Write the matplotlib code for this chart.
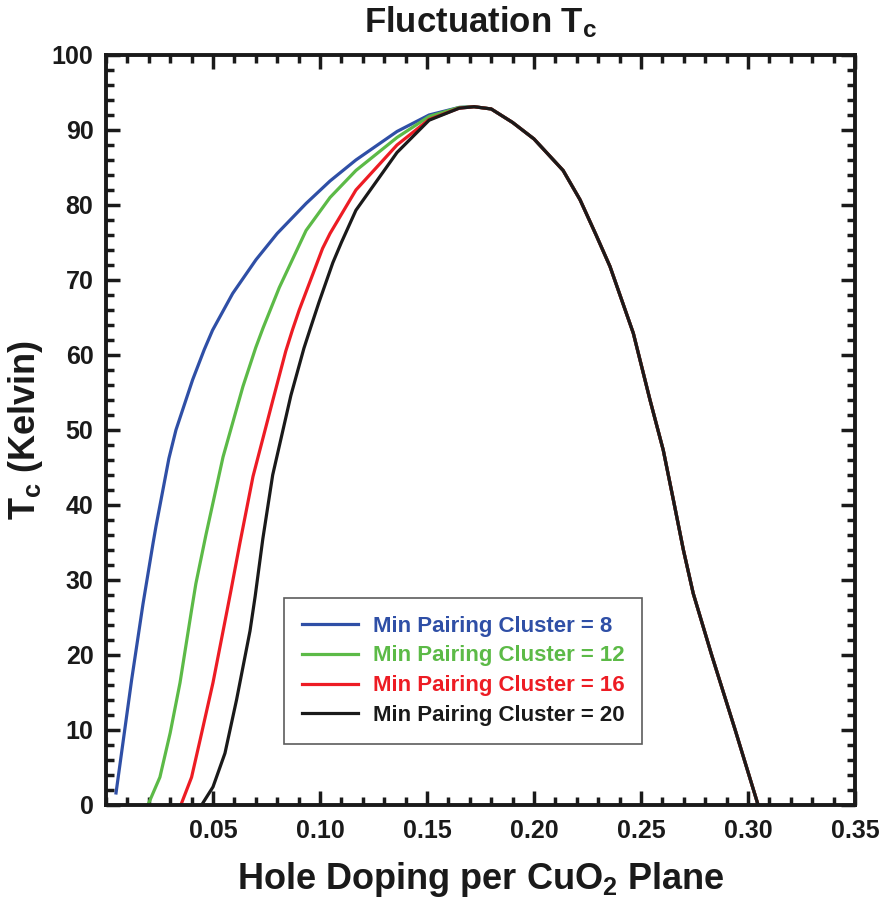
import matplotlib
matplotlib.use("Agg")
import matplotlib.pyplot as plt
from matplotlib.ticker import MultipleLocator

plt.rcParams["font.family"] = ["Liberation Sans", "DejaVu Sans"]
plt.rcParams["font.weight"] = "bold"
plt.rcParams["mathtext.fontset"] = "custom"
plt.rcParams["mathtext.rm"] = "Liberation Sans:bold"
plt.rcParams["mathtext.bf"] = "Liberation Sans:bold"
plt.rcParams["mathtext.it"] = "Liberation Sans:bold"

# shared overdoped branch (all curves coincide past the peak)
right_x = [0.180, 0.190, 0.200, 0.2136, 0.2215, 0.229, 0.2355, 0.2464, 0.2542,
           0.2604, 0.2651, 0.2698, 0.2744, 0.283, 0.294, 0.3047]
right_tc = [92.8, 91.0, 88.8, 84.6, 80.7, 76.0, 71.8, 62.9, 54.0,
            47.3, 40.7, 34.0, 28.2, 20.0, 10.0, 0.0]

# underdoped branches, one per minimum pairing cluster size
x_8 = [0.0047, 0.012, 0.0173, 0.022, 0.0234, 0.0294, 0.0327, 0.0405, 0.0459,
       0.0498, 0.0592, 0.0701, 0.080, 0.0935, 0.1047, 0.1168, 0.136, 0.151,
       0.165, 0.172]
tc_8 = [1.6, 16.7, 26.8, 34.9, 37.2, 46.2, 50.0, 56.7, 60.7,
        63.3, 68.2, 72.7, 76.2, 80.2, 83.2, 86.0, 89.8, 92.0,
        93.0, 93.1]

x_12 = [0.0196, 0.0252, 0.030, 0.0346, 0.040, 0.042, 0.0467, 0.0547, 0.064,
        0.070, 0.0734, 0.081, 0.0935, 0.1047, 0.1168, 0.136, 0.151, 0.165, 0.172]
tc_12 = [0.0, 3.7, 9.6, 16.3, 26.0, 29.5, 36.0, 46.4, 55.8,
         61.0, 63.6, 69.0, 76.6, 81.0, 84.6, 89.0, 91.8, 93.0, 93.1]

x_16 = [0.035, 0.040, 0.044, 0.050, 0.0565, 0.0584, 0.0625, 0.0687, 0.078,
        0.084, 0.0872, 0.0903, 0.1012, 0.1047, 0.1168, 0.136, 0.151, 0.165, 0.172]
tc_16 = [0.0, 3.7, 8.7, 16.3, 25.8, 28.6, 34.8, 43.8, 54.0,
         60.5, 63.4, 66.0, 74.2, 76.2, 82.0, 88.0, 91.4, 92.9, 93.1]

x_20 = [0.0447, 0.050, 0.0556, 0.061, 0.0673, 0.0697, 0.0733, 0.0779, 0.0864,
        0.0925, 0.0958, 0.0995, 0.106, 0.110, 0.1168, 0.136, 0.151, 0.165, 0.172]
tc_20 = [0.0, 2.4, 6.9, 14.0, 23.2, 27.8, 35.5, 44.0, 54.6,
         60.9, 63.8, 67.0, 72.3, 75.0, 79.3, 87.0, 91.3, 92.9, 93.1]

labels = ["Min Pairing Cluster = 8", "Min Pairing Cluster = 12",
          "Min Pairing Cluster = 16", "Min Pairing Cluster = 20"]
colors = ["#2f4fa6", "#5cba47", "#ed1c24", "#1a1a1a"]

fig = plt.figure(figsize=(8.89, 9.07), dpi=100)
ax = fig.add_axes([0.1192, 0.1125, 0.8426, 0.8269])

for xs, ts, lab, col in zip([x_8, x_12, x_16, x_20], [tc_8, tc_12, tc_16, tc_20],
                            labels, colors):
    ax.plot(xs + right_x, ts + right_tc, color=col, lw=2.3, label=lab,
            solid_joinstyle="round")

ax.set_xlim(0, 0.35)
ax.set_ylim(0, 100)
ax.xaxis.set_minor_locator(MultipleLocator(0.01))
ax.yaxis.set_major_locator(MultipleLocator(10))
ax.yaxis.set_minor_locator(MultipleLocator(2))
ax.set_xticks([0.05, 0.10, 0.15, 0.20, 0.25, 0.30, 0.35])
ax.set_xticklabels(["0.05", "0.10", "0.15", "0.20", "0.25", "0.30", "0.35"])

ax.tick_params(which="both", direction="in", top=True, right=True, width=2.5,
               labelsize=18, color="#1a1a1a", labelcolor="#1a1a1a")
ax.tick_params(which="major", length=10)
ax.tick_params(axis="x", which="major", pad=10)
ax.tick_params(axis="y", which="major", pad=9)
ax.tick_params(which="minor", length=6)
for sp in ax.spines.values():
    sp.set_linewidth(2.8)
    sp.set_color("#1a1a1a")

ax.set_xlabel(r"Hole Doping per CuO$_2$ Plane", fontsize=26, fontweight="bold",
              color="#1a1a1a", labelpad=12)
ax.set_ylabel(r"T$_\mathregular{c}$ (Kelvin)", fontsize=26, fontweight="bold",
              color="#1a1a1a", labelpad=5)
ax.set_title(r"Fluctuation T$_\mathregular{c}$", fontsize=25, fontweight="bold",
             color="#1a1a1a", pad=16)

leg = ax.legend(loc="lower left", bbox_to_anchor=(0.2377, 0.0813), fontsize=16,
                frameon=True, fancybox=False, edgecolor="#333333",
                handlelength=2.55, handletextpad=0.65, borderpad=0.8,
                labelspacing=0.4, borderaxespad=0)
leg.get_frame().set_linewidth(1.2)
for txt, col in zip(leg.get_texts(), colors):
    txt.set_color(col)

fig.savefig("out.png", dpi=100)
